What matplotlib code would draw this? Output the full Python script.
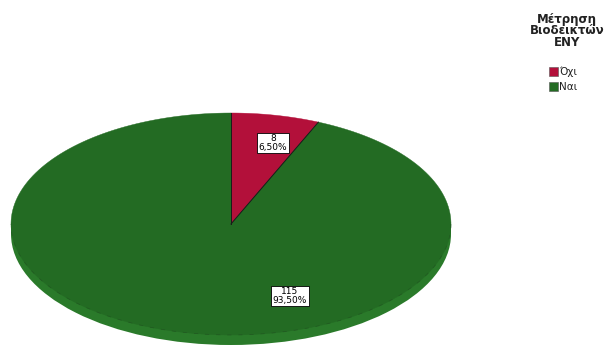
"""
Pie chart (SPSS-style flat 3D disc) of CSF biomarker measurement.
"""

import numpy as np
import matplotlib.pyplot as plt
from matplotlib.patches import Polygon, Rectangle, Ellipse

# Data
categories = ["Όχι", "Ναι"]
counts = [8, 115]
percents = [6.50, 93.50]
colors = ["#B3103A", "#236B23"]
side_color = "#2A7A2A"
legend_title = "Μέτρηση\nΒιοδεικτών\nΕΝΥ"

# Disc geometry in pixel units
cx, cy = 231, 224
a, b = 220, 111
depth = 10

fig = plt.figure(figsize=(6.09, 3.49), dpi=100)
ax = fig.add_axes([0, 0, 1, 1])
ax.set_xlim(0, 609)
ax.set_ylim(349, 0)
ax.axis("off")


def ell_point(theta, oy=0.0):
    # theta measured clockwise from 12 o'clock
    return cx + a * np.sin(theta), cy + oy - b * np.cos(theta)


# side of the disc
ax.add_patch(Ellipse((cx, cy + depth), 2 * a, 2 * b, facecolor=side_color,
                     edgecolor="none", zorder=1))
ax.add_patch(Rectangle((cx - a, cy), 2 * a, depth, facecolor=side_color,
                       edgecolor="none", zorder=1))

# top face wedges
total = sum(counts)
start = 0.0
for cnt, col in zip(counts, colors):
    sweep = 2 * np.pi * cnt / total
    t = np.linspace(start, start + sweep, 200)
    xs, ys = ell_point(t)
    pts = np.column_stack([np.r_[cx, xs], np.r_[cy, ys]])
    ax.add_patch(Polygon(pts, closed=True, facecolor=col, edgecolor=col,
                         lw=0.3, zorder=2))
    # radial border of the slice
    ex, ey = ell_point(start)
    ax.plot([cx, ex], [cy, ey], color="#1a1a1a", lw=0.7, zorder=3)
    start += sweep

# faint rim line along the front of the top face
t = np.linspace(np.pi / 2, 3 * np.pi / 2, 200)
xs, ys = ell_point(t)
ax.plot(xs, ys, color="#1f4a1f", lw=0.5, ls=(0, (6, 10)), alpha=0.6, zorder=2)

# value labels
label_pos = [(273, 143), (290, 296)]
for (lx, ly), cnt, pct in zip(label_pos, counts, percents):
    txt = f"{cnt}\n{pct:.2f}%".replace(".", ",")
    ax.text(lx, ly, txt, ha="center", va="center", fontsize=6.5,
            family="DejaVu Sans", linespacing=0.95, zorder=5,
            bbox=dict(boxstyle="square,pad=0.15", facecolor="white",
                      edgecolor="black", lw=0.6))

# legend
ax.text(567, 31, legend_title, ha="center", va="center", fontsize=8.5,
        fontweight="bold", linespacing=0.9, color="#222222")
for i, (lab, col) in enumerate(zip(categories, colors)):
    y0 = 67 + i * 15
    ax.add_patch(Rectangle((549, y0), 9, 9, facecolor=col,
                           edgecolor="#555555", lw=0.4))
    ax.text(559, y0 + 4.5, lab, ha="left", va="center", fontsize=7.5,
            color="#222222")

fig.savefig("out.png", dpi=100)
